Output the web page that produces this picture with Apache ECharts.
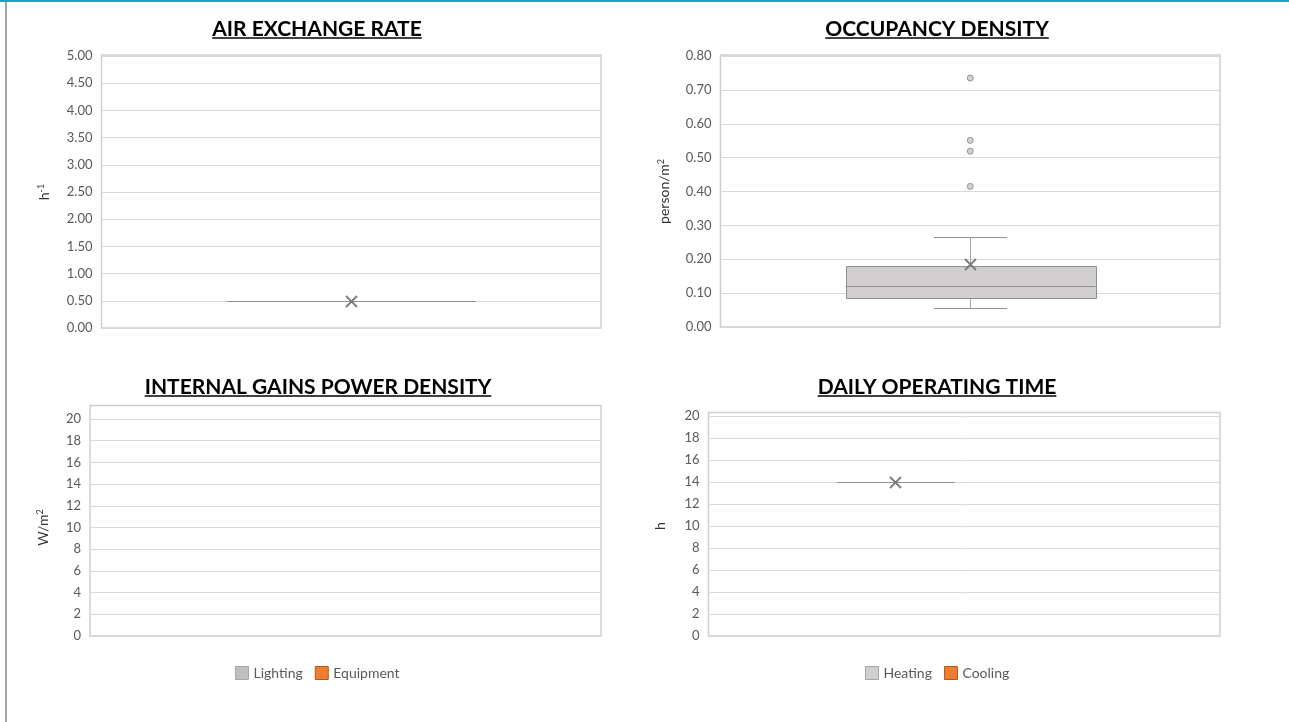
<!DOCTYPE html>
<html>
<head>
<meta charset="utf-8">
<script src="https://cdn.jsdelivr.net/npm/echarts@6/dist/echarts.min.js"></script>
<style>
html,body{margin:0;padding:0;background:#fff;}
#c{width:1289px;height:722px;}
</style>
</head>
<body>
<div id="c"></div>
<script>
// ---------------- DATA ----------------
const categories = [''];

// Air exchange rate (h-1): [min, Q1, median, Q3, max]
const airYTicks = [0, 0.5, 1, 1.5, 2, 2.5, 3, 3.5, 4, 4.5, 5];
const airBox = [0.50, 0.50, 0.50, 0.50, 0.50];
const airMean = 0.50;

// Occupancy density (person/m2)
const occYTicks = [0, 0.1, 0.2, 0.3, 0.4, 0.5, 0.6, 0.7, 0.8];
const occBox = [0.055, 0.086, 0.122, 0.180, 0.267];
const occMean = 0.187;
const occOutliers = [0.735, 0.551, 0.519, 0.415];

// Internal gains power density (W/m2) - no values
const gainsYTicks = [0, 2, 4, 6, 8, 10, 12, 14, 16, 18, 20];
const gainsSeriesNames = ['Lighting', 'Equipment'];
const lightingBox = [];
const lightingMean = null;
const equipmentBox = [];
const equipmentMean = null;

// Daily operating time (h)
const timeYTicks = [0, 2, 4, 6, 8, 10, 12, 14, 16, 18, 20];
const timeSeriesNames = ['Heating', 'Cooling'];
const heatingBox = [14, 14, 14, 14, 14];
const heatingMean = 14;
const coolingBox = [];
const coolingMean = null;

// ---------------- STYLE ----------------
const FONT = 'Lato';
const GRID_LINE = '#d9d9d9';
const BORDER = '#cfcfcf';
const LABEL = '#595959';

const TITLE_FONT_SIZE = 21;
const titles = [
  {text: 'AIR EXCHANGE RATE', cx: 317, top: 18.5},
  {text: 'OCCUPANCY DENSITY', cx: 937, top: 18.5},
  {text: 'INTERNAL GAINS POWER DENSITY', cx: 318, top: 376.5},
  {text: 'DAILY OPERATING TIME', cx: 937, top: 376.5}
];

const dataGrids = [
  {left: 101.5, top: 56, width: 499.5, height: 272},
  {left: 720.5, top: 56, width: 499.5, height: 271},
  {left: 90, top: 419, width: 511, height: 217},
  {left: 708.5, top: 416, width: 511.5, height: 220}
];
const borderGrids = [
  {left: 101.5, top: 55, width: 499.5, height: 273},
  {left: 720.5, top: 55, width: 499.5, height: 272},
  {left: 90, top: 405.5, width: 511, height: 230.5},
  {left: 708.5, top: 412.5, width: 511.5, height: 223.5}
];

function tickAxis(gridIndex, ticks, decimals, name, nameGap) {
  return {
    type: 'value', gridIndex,
    min: ticks[0], max: ticks[ticks.length - 1], interval: ticks[1] - ticks[0],
    axisLine: {show: false}, axisTick: {show: false},
    splitLine: {show: true, lineStyle: {color: GRID_LINE, width: 1}},
    axisLabel: {
      color: LABEL, fontFamily: FONT, fontSize: 13, margin: 9,
      formatter: v => Number(v).toFixed(decimals)
    },
    name, nameLocation: 'middle', nameGap, nameRotate: 90,
    nameTextStyle: {
      color: '#333333', fontFamily: FONT, fontSize: 14,
      rich: {s: {fontSize: 9, fontFamily: FONT, color: '#333333', verticalAlign: 'top', padding: [0, 0, 6, 0]}}
    }
  };
}

const BOX_FILL = '#d0cece';
const BOX_STROKE = '#8f8f8f';
const WHISKER = '#a6a6a6';
const MEAN = '#7a7a7a';

function boxSeries(name, gridIndex, box, mean, slot, colors) {
  const data = box.length ? [[0].concat(box, [mean])] : [];
  return {
    type: 'custom', name, xAxisIndex: gridIndex, yAxisIndex: gridIndex,
    itemStyle: {color: colors.fill, borderColor: colors.stroke},
    encode: {x: 0, y: [1, 2, 3, 4, 5, 6]},
    data,
    silent: true,
    renderItem(params, api) {
      const c = api.value(0);
      const band = api.size([1, 0])[0];
      const base = api.coord([c, api.value(3)]);
      const cx = Math.round(base[0] + slot.offset * band) + 0.5;
      const w = slot.width * band;
      const cap = slot.cap * band / 2;
      const y = i => Math.round(api.coord([c, api.value(i)])[1]) + 0.5;
      const yMin = y(1), yQ1 = y(2), yMed = y(3), yQ3 = y(4), yMax = y(5), yMean = y(6);
      const line = (x1, y1, x2, y2, stroke, lw) => ({
        type: 'line', shape: {x1, y1, x2, y2}, style: {stroke, lineWidth: lw}
      });
      const m = 5.5;
      return {
        type: 'group',
        children: [
          line(cx, yQ3, cx, yMax, WHISKER, 1),
          line(cx, yQ1, cx, yMin, WHISKER, 1),
          line(cx - cap, yMax, cx + cap, yMax, BOX_STROKE, 1),
          line(cx - cap, yMin, cx + cap, yMin, BOX_STROKE, 1),
          {type: 'rect', shape: {x: Math.round(cx - w / 2) + 0.5, y: yQ3, width: Math.round(w), height: yQ1 - yQ3},
           style: {fill: colors.fill, stroke: BOX_STROKE, lineWidth: 1}},
          line(cx - w / 2, yMed, cx + w / 2, yMed, BOX_STROKE, 1),
          line(cx - m, yMean - m, cx + m, yMean + m, MEAN, 1.8),
          line(cx - m, yMean + m, cx + m, yMean - m, MEAN, 1.8)
        ]
      };
    }
  };
}

// measure titles for underline
const ctx = document.createElement('canvas').getContext('2d');
ctx.font = 'bold ' + TITLE_FONT_SIZE + 'px ' + FONT;

const graphics = [
  {type: 'rect', shape: {x: 0, y: 0, width: 1289, height: 2}, style: {fill: '#1ea2b7'}, silent: true},
  {type: 'rect', shape: {x: 5, y: 2, width: 2, height: 720}, style: {fill: '#a6a6a6'}, silent: true}
];
titles.forEach(t => {
  const w = ctx.measureText(t.text).width;
  const yy = t.top + TITLE_FONT_SIZE * 0.93;
  graphics.push({type: 'line', shape: {x1: t.cx - w / 2, y1: yy, x2: t.cx + w / 2, y2: yy},
    style: {stroke: '#000', lineWidth: 1.5}, silent: true});
});

const chart = echarts.init(document.getElementById('c'), null, {renderer: 'canvas'});

const grids = [];
dataGrids.forEach(g => grids.push(Object.assign({show: false, outerBoundsMode: 'none', containLabel: false}, g)));
borderGrids.forEach(g => grids.push(Object.assign({show: true, borderColor: BORDER, borderWidth: 1.5, backgroundColor: 'transparent', outerBoundsMode: 'none', containLabel: false}, g)));

const legendText = {color: LABEL, fontFamily: FONT, fontSize: 14};
const option = {
  animation: false,
  backgroundColor: '#ffffff',
  title: titles.map(t => ({
    text: t.text, left: t.cx, top: t.top, textAlign: 'center', padding: 0,
    textStyle: {fontFamily: FONT, fontWeight: 'bold', fontSize: TITLE_FONT_SIZE, color: '#000'}
  })),
  grid: grids,
  xAxis: [0, 1, 2, 3].map(i => ({
    type: 'category', gridIndex: i, data: categories, boundaryGap: true, show: false
  })),
  yAxis: [
    tickAxis(0, airYTicks, 2, 'h{s|-1}', 50),
    tickAxis(1, occYTicks, 2, 'person/m{s|2}', 49),
    tickAxis(2, gainsYTicks, 0, 'W/m{s|2}', 39),
    tickAxis(3, timeYTicks, 0, 'h', 41)
  ],
  legend: [
    {
      left: 235, top: 666, padding: 0, itemWidth: 13, itemHeight: 13, itemGap: 12, icon: 'rect',
      textStyle: legendText,
      data: [
        {name: gainsSeriesNames[0], itemStyle: {color: '#bfbfbf', borderColor: '#a6a6a6', borderWidth: 1}},
        {name: gainsSeriesNames[1], itemStyle: {color: '#ed7d31', borderColor: '#ae5a21', borderWidth: 1}}
      ]
    },
    {
      left: 865, top: 666, padding: 0, itemWidth: 13, itemHeight: 13, itemGap: 12, icon: 'rect',
      textStyle: legendText,
      data: [
        {name: timeSeriesNames[0], itemStyle: {color: '#d0cece', borderColor: '#a6a6a6', borderWidth: 1}},
        {name: timeSeriesNames[1], itemStyle: {color: '#ed7d31', borderColor: '#ae5a21', borderWidth: 1}}
      ]
    }
  ],
  graphic: graphics,
  series: [
    boxSeries('Air exchange rate', 0, airBox, airMean, {offset: 0, width: 0.497, cap: 0.146}, {fill: BOX_FILL, stroke: BOX_STROKE}),
    boxSeries('Occupancy density', 1, occBox, occMean, {offset: 0, width: 0.5, cap: 0.146}, {fill: BOX_FILL, stroke: BOX_STROKE}),
    {
      type: 'scatter', name: 'Outliers', xAxisIndex: 1, yAxisIndex: 1, silent: true,
      symbol: 'circle', symbolSize: 6,
      itemStyle: {color: '#c8c8c8', borderColor: '#808080', borderWidth: 1},
      data: occOutliers.map(v => [0, v])
    },
    boxSeries(gainsSeriesNames[0], 2, lightingBox, lightingMean, {offset: -0.135, width: 0.229, cap: 0.067}, {fill: '#bfbfbf', stroke: '#a6a6a6'}),
    boxSeries(gainsSeriesNames[1], 2, equipmentBox, equipmentMean, {offset: 0.135, width: 0.229, cap: 0.067}, {fill: '#ed7d31', stroke: '#ae5a21'}),
    boxSeries(timeSeriesNames[0], 3, heatingBox, heatingMean, {offset: -0.135, width: 0.229, cap: 0.067}, {fill: BOX_FILL, stroke: BOX_STROKE}),
    boxSeries(timeSeriesNames[1], 3, coolingBox, coolingMean, {offset: 0.135, width: 0.229, cap: 0.067}, {fill: '#ed7d31', stroke: '#ae5a21'})
  ]
};
chart.setOption(option);
</script>
</body>
</html>
